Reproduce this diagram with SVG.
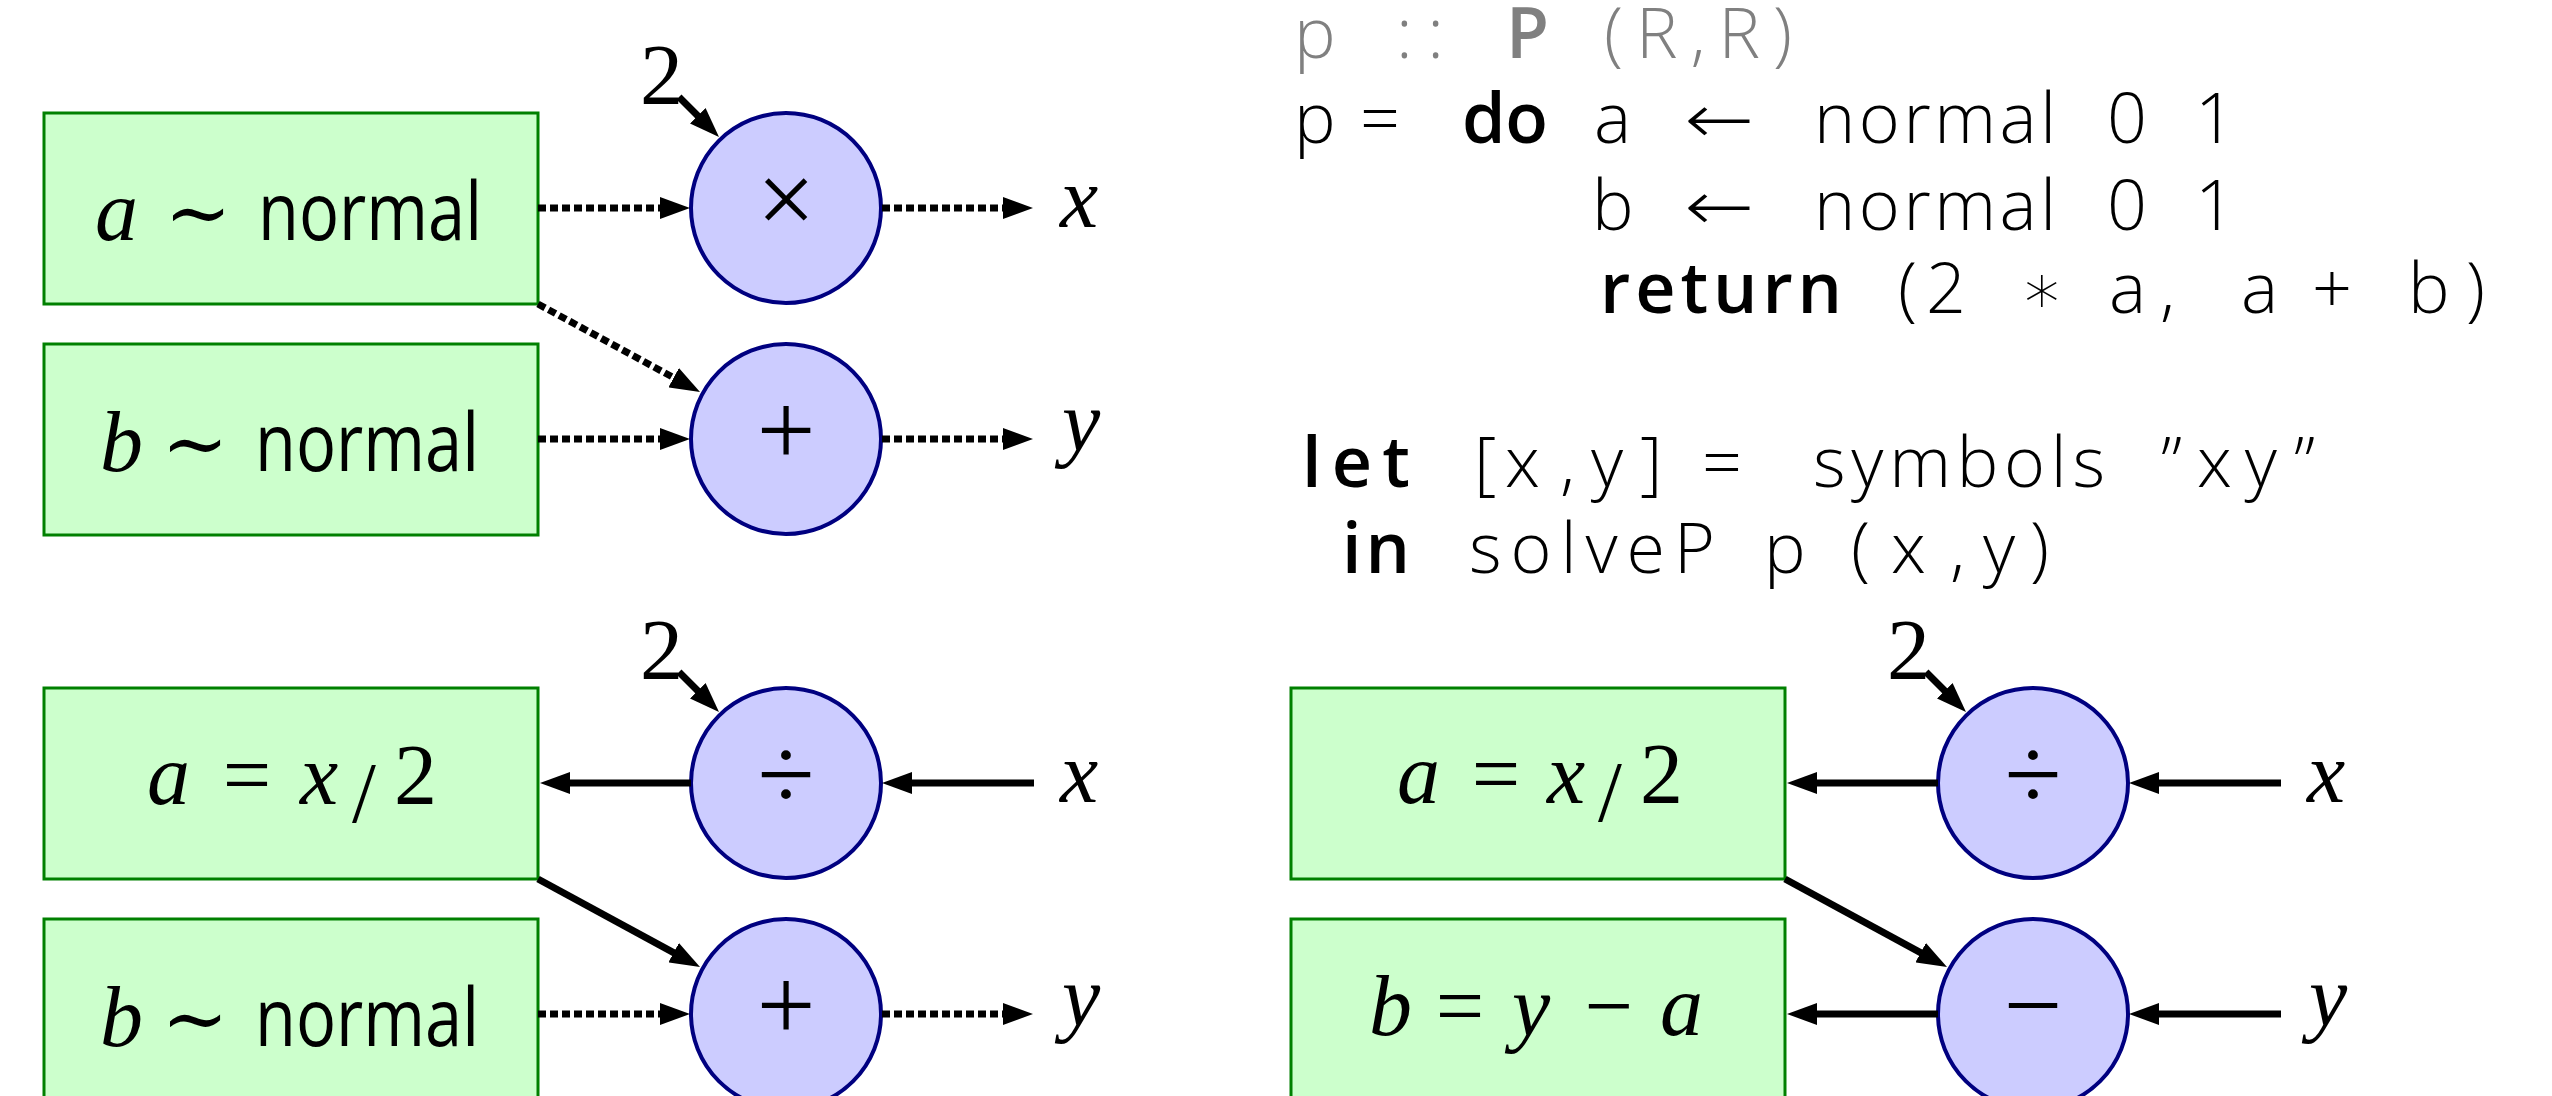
<svg xmlns="http://www.w3.org/2000/svg" width="2552" height="1096" viewBox="0 0 2552 1096">
<style>
.box{fill:#ccffcc;stroke:#008000;stroke-width:3}
.op{fill:#ccccff;stroke:#000080;stroke-width:4}
.m{font-family:"Liberation Serif","Times New Roman",serif;font-size:86px;fill:#000}
.i{font-style:italic}
.sym{font-family:"DejaVu Serif","Liberation Serif",serif;font-size:80px;font-weight:300}
.opt{font-family:"Liberation Serif","Times New Roman",serif;font-size:104px;text-anchor:middle;fill:#000}
.sf{font-family:"Open Sans","Noto Sans","Liberation Sans",sans-serif;font-size:80px;fill:#000}
.code{font-family:"Open Sans",Lato,"Noto Sans",sans-serif;font-size:70px;font-weight:300;fill:#000}
.ar{font-family:"DejaVu Sans","Noto Sans",sans-serif;font-weight:300}
.kw{font-weight:600}
.grey{fill:#808080}
.dot{stroke:#000;stroke-width:7;stroke-dasharray:8 4;fill:none}
.sol{stroke:#000;stroke-width:7;fill:none}
</style>
<defs>
<marker id="ah" markerUnits="userSpaceOnUse" markerWidth="30" markerHeight="22" viewBox="0 0 30 22" refX="2" refY="11" orient="auto">
<path d="M0,0 L30,11 L0,22 z" fill="#000"/>
</marker>
</defs>

<!-- Top panel -->
<g id="top-box-a">
<rect class="box" x="44" y="113" width="494" height="191"/>
<text class="m i" x="95" y="240">a</text>
<text class="m sym" x="198" y="240" text-anchor="middle">∼</text>
<text class="sf" x="258" y="240" textLength="224" lengthAdjust="spacingAndGlyphs">normal</text>
</g>
<g id="top-box-b">
<rect class="box" x="44" y="344" width="494" height="191"/>
<text class="m i" x="100" y="471">b</text>
<text class="m sym" x="195" y="471" text-anchor="middle">∼</text>
<text class="sf" x="255" y="471" textLength="224" lengthAdjust="spacingAndGlyphs">normal</text>
</g>
<g id="top-op-times">
<circle class="op" cx="786" cy="208" r="95"/>
<text class="opt" x="786" y="234">×</text>
</g>
<g id="top-op-plus">
<circle class="op" cx="786" cy="439" r="95"/>
<text class="opt" x="786" y="465">+</text>
</g>
<g id="top-label-2"><text class="m" x="640" y="104" font-size="84">2</text></g>
<g id="top-label-x"><text class="m i" x="1060" y="227">x</text></g>
<g id="top-label-y"><text class="m i" x="1062" y="450">y</text></g>

<!-- Bottom-left panel -->
<g id="bl-box-a">
<rect class="box" x="44" y="688" width="494" height="191"/>
<text class="m i" x="147" y="804">a</text>
<text class="m" x="247" y="804" text-anchor="middle">=</text>
<text class="m i" x="300" y="804">x</text>
<text class="m" x="352" y="822" font-size="110">/</text>
<text class="m" x="394" y="804">2</text>
</g>
<g id="bl-box-b">
<rect class="box" x="44" y="919" width="494" height="191"/>
<text class="m i" x="100" y="1046">b</text>
<text class="m sym" x="195" y="1046" text-anchor="middle">∼</text>
<text class="sf" x="255" y="1046" textLength="224" lengthAdjust="spacingAndGlyphs">normal</text>
</g>
<g id="bl-op-div">
<circle class="op" cx="786" cy="783" r="95"/>
<text class="opt" x="786" y="809">÷</text>
</g>
<g id="bl-op-plus">
<circle class="op" cx="786" cy="1014" r="95"/>
<text class="opt" x="786" y="1040">+</text>
</g>
<g id="bl-label-2"><text class="m" x="640" y="679" font-size="84">2</text></g>
<g id="bl-label-x"><text class="m i" x="1060" y="802">x</text></g>
<g id="bl-label-y"><text class="m i" x="1062" y="1025">y</text></g>

<!-- Bottom-right panel -->
<g id="br-box-a">
<rect class="box" x="1291" y="688" width="494" height="191"/>
<text class="m i" x="1397" y="803">a</text>
<text class="m" x="1496" y="803" text-anchor="middle">=</text>
<text class="m i" x="1547" y="803">x</text>
<text class="m" x="1598" y="821" font-size="110">/</text>
<text class="m" x="1640" y="803">2</text>
</g>
<g id="br-box-b">
<rect class="box" x="1291" y="919" width="494" height="191"/>
<text class="m i" x="1369" y="1035">b</text>
<text class="m" x="1460" y="1035" text-anchor="middle">=</text>
<text class="m i" x="1512" y="1035">y</text>
<text class="m" x="1609" y="1035" text-anchor="middle">−</text>
<text class="m i" x="1660" y="1035">a</text>
</g>
<g id="br-op-div">
<circle class="op" cx="2033" cy="783" r="95"/>
<text class="opt" x="2033" y="809">÷</text>
</g>
<g id="br-op-minus">
<circle class="op" cx="2033" cy="1014" r="95"/>
<text class="opt" x="2033" y="1040">−</text>
</g>
<g id="br-label-2"><text class="m" x="1887" y="679" font-size="84">2</text></g>
<g id="br-label-x"><text class="m i" x="2307" y="802">x</text></g>
<g id="br-label-y"><text class="m i" x="2309" y="1025">y</text></g>

<!-- Code -->
<g id="code">
<g class="code grey">
<text x="1294" y="58">p</text>
<text x="1396" y="58" textLength="48">::</text>
<text class="kw" x="1506" y="58">P</text>
<text x="1604" y="58" textLength="188">(R,R)</text>
</g>
<g class="code">
<text x="1294" y="143">p</text>
<text x="1360" y="143">=</text>
<text class="kw" x="1462" y="143" textLength="86">do</text>
<text x="1594" y="143">a</text>
<text class="ar" x="1684" y="143" textLength="70" lengthAdjust="spacingAndGlyphs">←</text>
<text x="1814" y="143" textLength="242">normal</text>
<text x="2107" y="143">0</text>
<text x="2195" y="143">1</text>

<text x="1592" y="230">b</text>
<text class="ar" x="1684" y="230" textLength="70" lengthAdjust="spacingAndGlyphs">←</text>
<text x="1814" y="230" textLength="242">normal</text>
<text x="2107" y="230">0</text>
<text x="2195" y="230">1</text>

<text class="kw" x="1600" y="313" textLength="242">return</text>
<text x="1898" y="313">(</text>
<text x="1926" y="313">2</text>
<text class="ar" x="2020" y="313">∗</text>
<text x="2109" y="313">a</text>
<text x="2160" y="313">,</text>
<text x="2241" y="313">a</text>
<text x="2312" y="313">+</text>
<text x="2408" y="313">b</text>
<text x="2466" y="313">)</text>

<text class="kw" x="1302" y="487" textLength="108">let</text>
<text x="1474" y="487">[</text>
<text x="1505" y="487">x</text>
<text x="1560" y="487">,</text>
<text x="1591" y="487">y</text>
<text x="1640" y="487">]</text>
<text x="1702" y="487">=</text>
<text x="1813" y="487" textLength="292">symbols</text>
<text x="2161" y="487">”</text>
<text x="2197" y="487" textLength="80">xy</text>
<text x="2294" y="487">”</text>

<text class="kw" x="1342" y="573" textLength="68">in</text>
<text x="1469" y="573" textLength="246">solveP</text>
<text x="1764" y="573">p</text>
<text x="1851" y="573">(</text>
<text x="1891" y="573">x</text>
<text x="1950" y="573">,</text>
<text x="1983" y="573">y</text>
<text x="2030" y="573">)</text>
</g>
</g>

<!-- Connectors -->
<g id="connectors">
<path class="dot" d="M538,208 H662" marker-end="url(#ah)"/>
<path class="dot" d="M882,208 H1005" marker-end="url(#ah)"/>
<path class="dot" d="M538,304 L675.4,378.6" marker-end="url(#ah)"/>
<path class="dot" d="M538,439 H662" marker-end="url(#ah)"/>
<path class="dot" d="M882,439 H1005" marker-end="url(#ah)"/>
<path class="sol" d="M679,97 L699.2,117.2" marker-end="url(#ah)"/>

<path class="sol" d="M679,672 L699.2,692.2" marker-end="url(#ah)"/>
<path class="sol" d="M691,783 H568" marker-end="url(#ah)"/>
<path class="sol" d="M1034,783 H910" marker-end="url(#ah)"/>
<path class="sol" d="M538,879 L675.4,953.6" marker-end="url(#ah)"/>
<path class="dot" d="M538,1014 H662" marker-end="url(#ah)"/>
<path class="dot" d="M882,1014 H1005" marker-end="url(#ah)"/>

<path class="sol" d="M1926,672 L1946.2,692.2" marker-end="url(#ah)"/>
<path class="sol" d="M1938,783 H1815" marker-end="url(#ah)"/>
<path class="sol" d="M2281,783 H2157" marker-end="url(#ah)"/>
<path class="sol" d="M1785,879 L1922.4,953.6" marker-end="url(#ah)"/>
<path class="sol" d="M1938,1014 H1815" marker-end="url(#ah)"/>
<path class="sol" d="M2281,1014 H2157" marker-end="url(#ah)"/>
</g>
</svg>
